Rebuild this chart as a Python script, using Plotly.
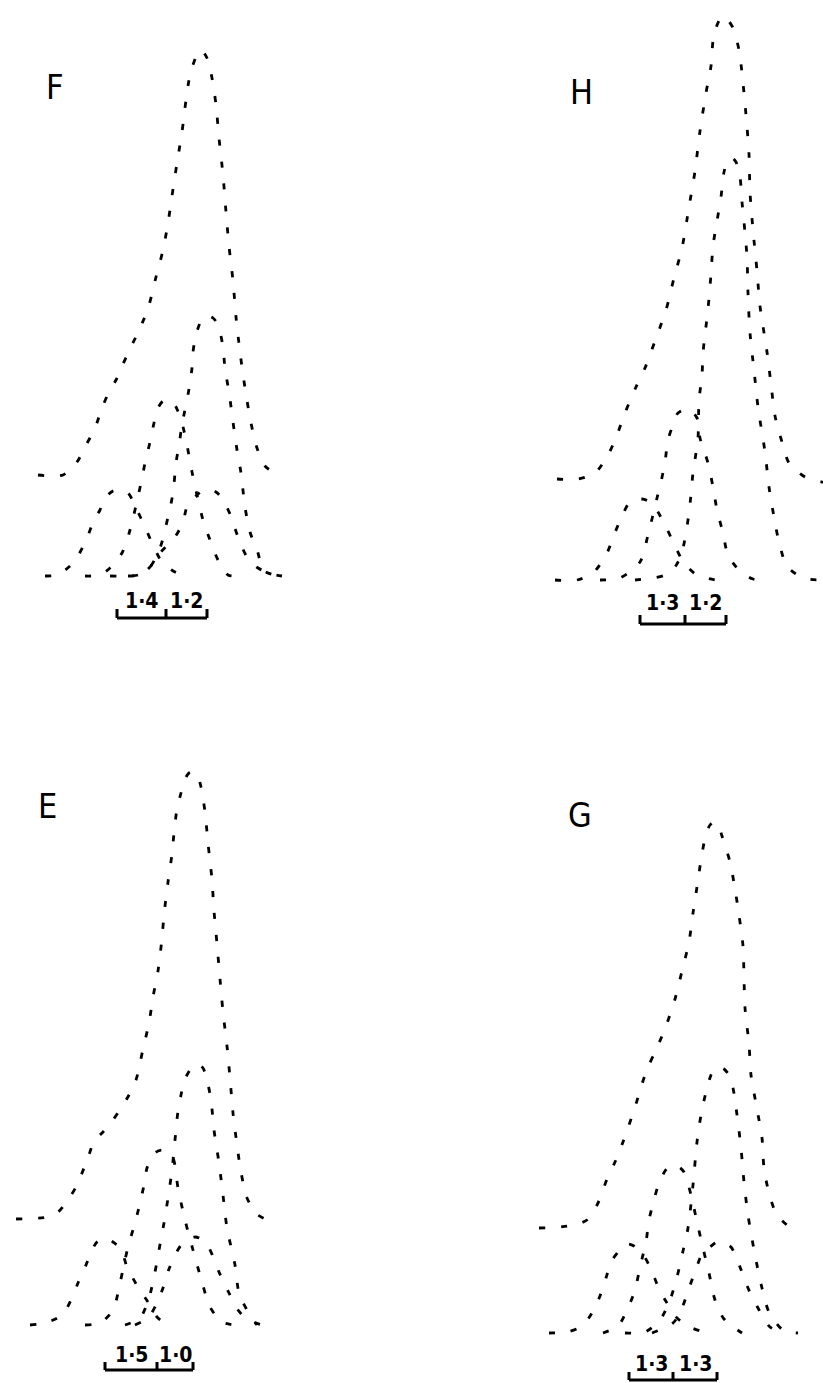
import plotly.graph_objects as go

# ---- panel F (top left) ----
f_total_x = [38, 63, 77, 85, 95, 102, 109, 116, 123, 131, 141, 149, 156, 163, 168, 172, 177, 182, 186, 190,
             196, 201, 207, 212, 216, 219, 223, 226, 229, 233, 236, 240, 245, 251, 257, 265, 282]
f_total_y = [101, 101, 114, 129, 148, 168, 184, 196, 212, 229, 250, 271, 299, 326, 353, 380, 413, 444, 476, 501,
             519, 526, 518, 498, 471, 438, 401, 364, 330, 295, 259, 224, 188, 153, 128, 110, 99]
f_c3_x = [110, 125, 138, 150, 160, 168, 173, 176, 179, 182, 189, 192, 193, 196, 200, 204, 208, 213, 218, 223,
          225, 229, 233, 237, 241, 245, 250, 258, 263, 278]
f_c3_y = [0, 0, 1, 9, 28, 59, 83, 113, 131, 151, 187, 208, 224, 241, 253, 259, 260, 258, 251, 229,
          207, 184, 154, 126, 103, 69, 44, 23, 6, 0]
f_c2_x = [85, 100, 110, 122, 130, 141, 145, 150, 154, 158, 163, 168, 172, 176, 182, 187, 192, 203, 210, 218, 228, 240]
f_c2_y = [0, 1, 8, 23, 46, 93, 113, 134, 153, 168, 175, 176, 174, 169, 153, 131, 104, 56, 36, 16, 1, 0]
f_c1a_x = [45, 57, 70, 79, 87, 94, 100, 105, 113, 119, 128, 137, 145, 153, 162, 175, 187]
f_c1a_y = [0, 1, 10, 22, 38, 56, 66, 78, 85, 86, 83, 66, 49, 31, 14, 4, 0]
f_c1b_x = [128, 140, 150, 161, 175, 183, 187, 197, 203, 208, 216, 221, 230, 238, 247, 258, 272, 282]
f_c1b_y = [0, 1, 9, 24, 39, 54, 69, 81, 86, 87, 84, 79, 62, 39, 19, 8, 2, 0]
f_bar_x = [117, 166, 207]
f_labels = ["1·4", "1·2"]

# ---- panel H (top right) ----
h_total_x = [146, 167, 184, 198, 206, 214, 225, 234, 244, 255, 263, 271, 278, 284, 289, 295, 300, 302, 305, 309,
             313, 317, 322, 328, 332, 335, 338, 339, 342, 346, 349, 356, 360, 364, 371, 378, 394, 411, 424]
h_total_y = [101, 101, 107, 127, 145, 167, 193, 212, 239, 270, 302, 332, 373, 409, 449, 487, 514, 539, 552, 561,
             564, 560, 552, 530, 497, 465, 426, 388, 350, 309, 274, 228, 196, 164, 138, 117, 103, 98, 97]
h_c4_x = [224, 242, 254, 264, 271, 278, 282, 287, 288, 291, 292, 297, 300, 302, 306, 310, 313, 317, 321, 325,
          329, 331, 333, 336, 337, 339, 343, 347, 354, 358, 363, 368, 376, 392, 411]
h_c4_y = [0, 2, 5, 13, 28, 67, 107, 142, 180, 204, 227, 271, 306, 334, 359, 383, 408, 420, 422, 418,
          403, 378, 358, 323, 287, 247, 210, 173, 128, 93, 63, 38, 14, 2, 0]
h_c3_x = [189, 209, 229, 237, 246, 250, 254, 257, 262, 267, 277, 286, 289, 297, 302, 306, 312, 317, 328, 342, 359]
h_c3_y = [0, 2, 18, 45, 82, 98, 118, 140, 155, 167, 171, 162, 142, 117, 93, 70, 47, 25, 10, 1, 0]
h_c1_x = [144, 166, 182, 196, 203, 212, 219, 231, 241, 247, 256, 264, 273, 286, 304]
h_c1_y = [0, 0, 7, 27, 45, 66, 78, 81, 77, 68, 51, 34, 17, 5, 0]
h_bar_x = [229, 274, 315]
h_labels = ["1·3", "1·2"]

# ---- panel E (bottom left) ----
e_total_x = [16, 47, 58, 68, 77, 84, 89, 94, 103, 113, 121, 129, 136, 143, 149, 153, 158, 162, 164, 168,
             172, 174, 177, 181, 185, 189, 193, 197, 201, 205, 208, 212, 214, 217, 220, 223, 227, 230, 233, 237,
             241, 247, 258, 273]
e_total_y = [106, 108, 113, 125, 140, 157, 170, 184, 193, 205, 217, 230, 245, 276, 302, 328, 354, 387, 410, 443,
             471, 492, 516, 532, 546, 552, 553, 551, 538, 513, 482, 445, 414, 381, 346, 313, 279, 247, 212, 180,
             153, 127, 110, 103]
e_c3_x = [125, 140, 149, 155, 159, 164, 168, 172, 175, 178, 181, 185, 193, 198, 203, 207, 211, 214, 219, 223,
          227, 235, 239, 247, 257]
e_c3_y = [0, 7, 27, 53, 75, 102, 127, 155, 185, 214, 230, 246, 259, 261, 257, 245, 225, 195, 162, 130,
          97, 60, 32, 15, 0]
e_c2_x = [85, 100, 113, 120, 128, 135, 140, 144, 147, 153, 158, 162, 167, 173, 178, 185, 193, 202, 210, 222, 235]
e_c2_y = [0, 2, 15, 42, 78, 102, 122, 140, 157, 170, 174, 175, 173, 167, 137, 105, 75, 43, 18, 3, 0]
e_c1a_x = [30, 45, 62, 72, 78, 86, 92, 97, 103, 108, 113, 121, 127, 138, 148, 157, 168]
e_c1a_y = [0, 2, 10, 27, 42, 60, 75, 83, 87, 86, 83, 76, 58, 38, 23, 8, 0]
e_c1b_x = [135, 148, 156, 163, 169, 175, 182, 189, 195, 201, 209, 219, 229, 238, 248, 262]
e_c1b_y = [0, 7, 20, 37, 56, 70, 81, 86, 88, 86, 77, 53, 32, 15, 5, 0]
e_bar_x = [105, 157, 193]
e_labels = ["1·5", "1·0"]

# ---- panel G (bottom right) ----
g_total_x = [128, 157, 176, 187, 196, 204, 212, 218, 225, 231, 237, 245, 255, 264, 271, 278, 282, 286, 290, 295,
             299, 303, 307, 311, 319, 324, 328, 332, 333, 334, 338, 340, 346, 351, 353, 358, 366, 382]
g_total_y = [105, 107, 113, 130, 154, 171, 191, 208, 229, 249, 266, 283, 307, 334, 362, 391, 420, 446, 473, 499,
             508, 511, 508, 497, 471, 444, 418, 387, 356, 325, 289, 258, 224, 195, 165, 140, 118, 103]
g_c3_x = [214, 234, 249, 259, 266, 272, 277, 282, 286, 290, 295, 300, 304, 308, 313, 318, 322, 326, 330, 333,
          337, 344, 351, 358, 372, 387]
g_c3_y = [0, 1, 13, 33, 56, 82, 105, 148, 191, 218, 241, 258, 265, 266, 264, 258, 245, 218, 185, 151,
          118, 78, 45, 21, 3, 0]
g_c2_x = [192, 207, 216, 224, 229, 235, 238, 243, 247, 254, 258, 263, 268, 273, 280, 286, 292, 298, 304, 313, 331]
g_c2_y = [0, 7, 23, 43, 66, 91, 113, 133, 147, 162, 166, 168, 166, 161, 138, 111, 85, 60, 33, 14, 0]
g_c1a_x = [138, 156, 171, 181, 189, 195, 200, 207, 212, 217, 223, 231, 240, 248, 256, 266, 281, 297]
g_c1a_y = [0, 1, 7, 20, 37, 55, 71, 81, 87, 89, 87, 80, 64, 44, 30, 15, 5, 0]
g_c1b_x = [241, 262, 271, 277, 285, 292, 299, 304, 308, 313, 320, 329, 337, 347, 359, 372]
g_c1b_y = [0, 10, 25, 42, 64, 81, 86, 90, 92, 90, 86, 66, 45, 25, 6, 0]
g_bar_x = [218, 262, 306]
g_labels = ["1·3", "1·3"]

panels = [
    # letter, axis suffix, curves, bar x, bar labels, letter pos, bar y, tick top, label y
    ("F", "", [(f_total_x, f_total_y), (f_c3_x, f_c3_y), (f_c2_x, f_c2_y), (f_c1a_x, f_c1a_y), (f_c1b_x, f_c1b_y)],
     f_bar_x, f_labels, (55, 489), -42, -33, -25),
    ("H", "2", [(h_total_x, h_total_y), (h_c4_x, h_c4_y), (h_c3_x, h_c3_y), (h_c1_x, h_c1_y)],
     h_bar_x, h_labels, (170, 488), -44, -35, -23),
    ("E", "3", [(e_total_x, e_total_y), (e_c3_x, e_c3_y), (e_c2_x, e_c2_y), (e_c1a_x, e_c1a_y), (e_c1b_x, e_c1b_y)],
     e_bar_x, e_labels, (47, 519), -45, -37, -30),
    ("G", "4", [(g_total_x, g_total_y), (g_c3_x, g_c3_y), (g_c2_x, g_c2_y), (g_c1a_x, g_c1a_y), (g_c1b_x, g_c1b_y)],
     g_bar_x, g_labels, (169, 518), -47, -39, -31),
]

letter_font = dict(family="DejaVu Sans Condensed, Liberation Sans Narrow, sans-serif", size=34, color="black")
num_font = dict(family="DejaVu Sans Condensed, Liberation Sans Narrow, sans-serif", size=21, color="black",
                weight="bold")

fig = go.Figure()
annotations = []
for letter, ax, curves, bar_x, labels, pos, bar_y, tick_top, lab_y in panels:
    xa, ya = "x" + ax, "y" + ax
    for cx, cy in curves:
        fig.add_trace(go.Scatter(
            x=cx, y=cy, xaxis=xa, yaxis=ya, mode="lines",
            line=dict(color="black", width=2.8, dash="6px,16px", shape="spline", smoothing=0.8),
            showlegend=False, hoverinfo="skip"))
    # scale bar with upward ticks
    bx = [bar_x[0], bar_x[0], None, bar_x[0], bar_x[2], None, bar_x[1], bar_x[1], None, bar_x[2], bar_x[2]]
    by = [tick_top, bar_y, None, bar_y, bar_y, None, tick_top, bar_y, None, bar_y, tick_top]
    fig.add_trace(go.Scatter(x=bx, y=by, xaxis=xa, yaxis=ya, mode="lines",
                             line=dict(color="black", width=3), showlegend=False, hoverinfo="skip"))
    annotations.append(dict(x=pos[0], y=pos[1], xref=xa, yref=ya, text=letter, showarrow=False, font=letter_font))
    for i, lab in enumerate(labels):
        annotations.append(dict(x=(bar_x[i] + bar_x[i + 1]) / 2, y=lab_y, xref=xa, yref=ya, text=lab,
                                showarrow=False, font=num_font))

hidden = dict(visible=False, fixedrange=True)
fig.update_layout(
    width=823, height=1383,
    margin=dict(l=0, r=0, t=0, b=0),
    paper_bgcolor="white", plot_bgcolor="white",
    xaxis=dict(domain=[0, 0.5], range=[0, 411.5], **hidden),
    yaxis=dict(domain=[0.5, 1], range=[-115.5, 576], **hidden),
    xaxis2=dict(domain=[0.5, 1], range=[0.5, 412], anchor="y2", **hidden),
    yaxis2=dict(domain=[0.5, 1], range=[-111.5, 580], anchor="x2", **hidden),
    xaxis3=dict(domain=[0, 0.5], range=[0, 411.5], anchor="y3", **hidden),
    yaxis3=dict(domain=[0, 0.5], range=[-58, 633.5], anchor="x3", **hidden),
    xaxis4=dict(domain=[0.5, 1], range=[0.5, 412], anchor="y4", **hidden),
    yaxis4=dict(domain=[0, 0.5], range=[-50, 641.5], anchor="x4", **hidden),
    annotations=annotations,
)

fig.write_html("out.html", config={"displayModeBar": False},
               post_script="document.body.style.margin='0px';")
